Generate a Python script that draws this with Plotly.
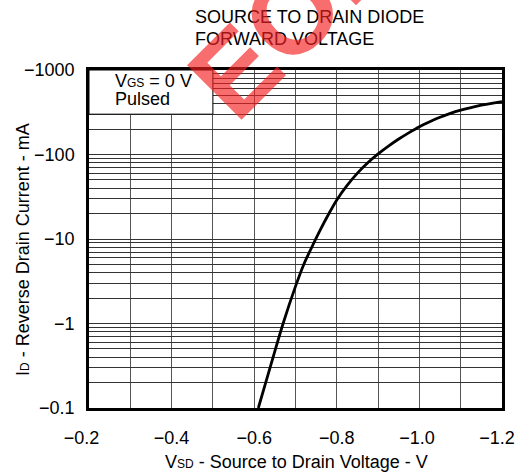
import numpy as np
import plotly.graph_objects as go

# Data
vsd_v = [-0.61, -0.64, -0.67, -0.70, -0.72, -0.74, -0.76, -0.78, -0.80, -0.825, -0.85, -0.875,
         -0.90, -0.925, -0.95, -0.975, -1.00, -1.025, -1.05, -1.075, -1.10, -1.125, -1.15, -1.175, -1.20]
id_ma = [-0.1, -0.319, -1.0, -2.75, -5.0, -8.1, -12.8, -19.6, -29.0, -43.1, -60.2, -79.8,
         -101.6, -125.8, -152.4, -181.6, -213.3, -244.1, -276.1, -306.2, -334.2, -359.7, -382.8, -403.3, -422.3]

x_ticks = [-0.2, -0.3, -0.4, -0.5, -0.6, -0.7, -0.8, -0.9, -1.0, -1.1, -1.2]
x_labels = ["\u22120.2\u00a0\u00a0\u00a0", "", "\u22120.4", "", "\u22120.6", "", "\u22120.8", "",
            "\u22121.0\u00a0", "", "\u22121.2\u00a0\u00a0"]
y_decades = [0.1, 1, 10, 100, 1000]
y_decade_labels = ["\u22120.1", "\u22121", "\u221210", "\u2212100", "\u22121000"]

y_ticks = []
y_labels = []
for i, d in enumerate(y_decades[:-1]):
    for k in range(1, 10):
        y_ticks.append(round(d * k, 6))
        y_labels.append(y_decade_labels[i] if k == 1 else "")
y_ticks.append(1000)
y_labels.append(y_decade_labels[-1])

FONT = "Liberation Sans, Arial, Helvetica, sans-serif"

fig = go.Figure()
fig.add_trace(go.Scatter(
    x=vsd_v, y=np.abs(id_ma), mode="lines",
    line=dict(color="black", width=2.8, shape="spline", smoothing=1.0),
    showlegend=False, hoverinfo="skip",
))

L, R, T, B = 89, 14, 70, 66
W, H = 516, 474
pw, ph = W - L - R, H - T - B

def px(x):
    return (x - L) / pw

def py(y):
    return (H - B - y) / ph

fig.update_layout(
    width=W, height=H,
    margin=dict(l=L, r=R, t=T, b=B, autoexpand=False),
    paper_bgcolor="white", plot_bgcolor="white",
    font=dict(family=FONT, size=18, color="black"),
    showlegend=False,
    xaxis=dict(
        range=[-0.2, -1.2], tickvals=x_ticks, ticktext=x_labels,
        showgrid=True, gridcolor="#555555", gridwidth=1,
        showline=True, mirror=True, linecolor="black", linewidth=2.5,
        ticks="", ticklabelstandoff=12, zeroline=False,
        ticklabeloverflow="allow", tickfont=dict(size=18),
    ),
    yaxis=dict(
        type="log", range=[-1, 3], tickvals=y_ticks, ticktext=y_labels,
        showgrid=True, gridcolor="#333333", gridwidth=1,
        showline=True, mirror=True, linecolor="black", linewidth=2.5,
        ticks="", ticklabelstandoff=8, zeroline=False,
        ticklabeloverflow="allow", tickfont=dict(size=18),
    ),
)

# legend box (white cell)
fig.add_shape(type="rect", xref="x", yref="y",
              x0=-0.2, x1=-0.5, y0=300, y1=1000,
              fillcolor="white", line=dict(color="black", width=1), layer="between")

ann = [
    dict(text="SOURCE TO DRAIN DIODE", x=px(193), y=py(17), xanchor="left", yanchor="middle"),
    dict(text="FORWARD VOLTAGE", x=px(193), y=py(38.5), xanchor="left", yanchor="middle"),
    dict(text="V<span style='font-size:12px'>GS</span> = 0 V", x=px(113), y=py(81), xanchor="left", yanchor="middle"),
    dict(text="Pulsed", x=px(113), y=py(99), xanchor="left", yanchor="middle"),
    dict(text="I<span style='font-size:12px'>D</span> - Reverse Drain Current - mA", x=px(23), y=py(250),
         xanchor="center", yanchor="middle", textangle=-90),
    dict(text="V<span style='font-size:12px'>SD</span> - Source to Drain Voltage - V", x=px(296), y=py(462),
         xanchor="center", yanchor="middle"),
]
for a in ann:
    fig.add_annotation(xref="paper", yref="paper", showarrow=False,
                       font=dict(family=FONT, size=18, color="black"), **a)

# EOL watermark
fig.add_annotation(xref="paper", yref="paper", showarrow=False,
                   text="<b>EOL</b>", x=px(290), y=py(16), xanchor="center", yanchor="middle",
                   textangle=-45, font=dict(family=FONT, size=112, color="rgba(245,30,30,0.65)"))

fig.write_html("out.html", config={"displayModeBar": False},
               post_script="document.body.style.margin='0px';")
